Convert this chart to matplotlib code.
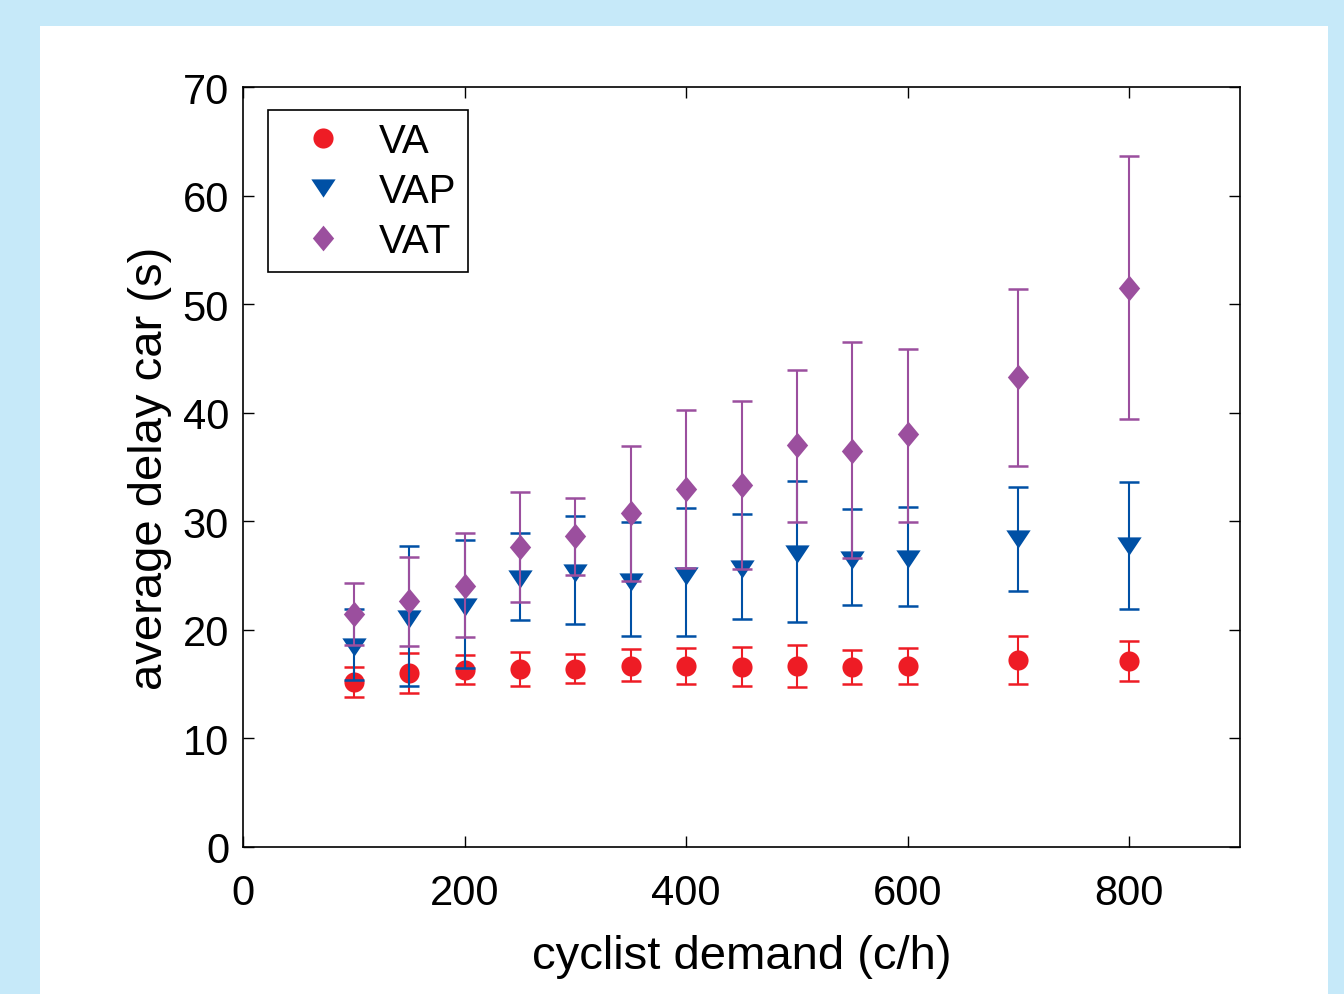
import numpy as np
import matplotlib
matplotlib.use("Agg")
import matplotlib.pyplot as plt
from matplotlib.patches import Rectangle
from matplotlib.path import Path

plt.rcParams['font.family'] = ['Liberation Sans', 'DejaVu Sans']

# cyclist demand (c/h)
demand = [100, 150, 200, 250, 300, 350, 400, 450, 500, 550, 600, 700, 800]

# VA: mean, upper and lower error bar ends
va = [15.2, 16.0, 16.3, 16.4, 16.4, 16.7, 16.7, 16.6, 16.7, 16.6, 16.7, 17.2, 17.1]
va_hi = [16.6, 17.9, 17.7, 18.0, 17.8, 18.2, 18.3, 18.4, 18.6, 18.1, 18.3, 19.4, 19.0]
va_lo = [13.8, 14.2, 15.0, 14.8, 15.1, 15.3, 15.0, 14.85, 14.7, 15.0, 15.05, 15.05, 15.3]

# VAP
vap = [18.4, 21.0, 22.1, 24.7, 25.2, 24.45, 25.0, 25.6, 27.0, 26.4, 26.5, 28.4, 27.7]
vap_hi = [21.95, 27.7, 28.3, 28.9, 30.5, 29.95, 31.25, 30.7, 33.7, 31.15, 31.3, 33.2, 33.6]
vap_lo = [15.4, 14.8, 16.5, 20.9, 20.5, 19.45, 19.4, 21.0, 20.75, 22.3, 22.2, 23.6, 21.95]

# VAT
vat = [21.5, 22.7, 24.0, 27.6, 28.6, 30.8, 33.0, 33.3, 37.0, 36.5, 38.0, 43.3, 51.5]
vat_hi = [24.3, 26.7, 28.9, 32.7, 32.1, 36.9, 40.25, 41.1, 43.9, 46.5, 45.9, 51.4, 63.6]
vat_lo = [18.6, 18.5, 19.3, 22.6, 25.05, 24.5, 25.7, 25.6, 29.95, 26.6, 29.95, 35.1, 39.4]

x = np.array(demand)

# matlab-ish markers (wide triangle, tall diamond)
tri = Path([(0, -0.75), (-1, 0.75), (1, 0.75), (0, -0.75)], closed=True)
dia = Path([(0, 1), (0.83, 0), (0, -1), (-0.83, 0), (0, 1)], closed=True)

fig = plt.figure(figsize=(13.44, 9.95), dpi=100)
fig.patch.set_facecolor('#c6e9f9')
fig.patches.append(Rectangle((40/1344, 0), 1288/1344, 1 - 27/995,
                             transform=fig.transFigure, facecolor='white',
                             edgecolor='none', zorder=-10))

ax = fig.add_axes([243/1344, 1 - 848/995, 997/1344, 760/995])

series = [
    ("VA", va, va_lo, va_hi, 'o', '#ee1c25', 14.5),
    ("VAP", vap, vap_lo, vap_hi, tri, '#0050a5', 17.5),
    ("VAT", vat, vat_lo, vat_hi, dia, '#9b4f9e', 18.5),
]
handles = []
for name, y, lo, hi, mk, col, ms in series:
    y = np.array(y)
    err = [y - np.array(lo), np.array(hi) - y]
    eb = ax.errorbar(x, y, yerr=err, fmt='none', ecolor=col, elinewidth=1.5,
                     capsize=7, capthick=1.8)
    h, = ax.plot(x, y, linestyle='none', marker=mk, color=col,
                 markersize=ms, markeredgewidth=0, label=name)
    handles.append(h)

ax.set_xlim(0, 900)
ax.set_ylim(0, 70)
ax.set_xticks([0, 200, 400, 600, 800])
ax.set_yticks(range(0, 71, 10))
ax.tick_params(direction='in', length=8, width=1, labelsize=30,
               top=True, right=True)
ax.tick_params(axis='x', pad=19)
ax.tick_params(axis='y', pad=10)
for s in ax.spines.values():
    s.set_linewidth(1.2)
ax.set_xlabel("cyclist demand (c/h)", fontsize=34, labelpad=15)
ax.set_ylabel("average delay car (s)", fontsize=34, labelpad=8)

leg = ax.legend(handles, [h.get_label() for h in handles], loc='upper left',
                fontsize=29, fancybox=False, framealpha=1, edgecolor='black',
                borderpad=0.3, handletextpad=0.3, labelspacing=0.3,
                handlelength=2.15, borderaxespad=0,
                bbox_to_anchor=(25/997, 1 - 23/760))
leg.get_frame().set_linewidth(1.2)

fig.savefig("out.png", dpi=100, facecolor=fig.get_facecolor())
